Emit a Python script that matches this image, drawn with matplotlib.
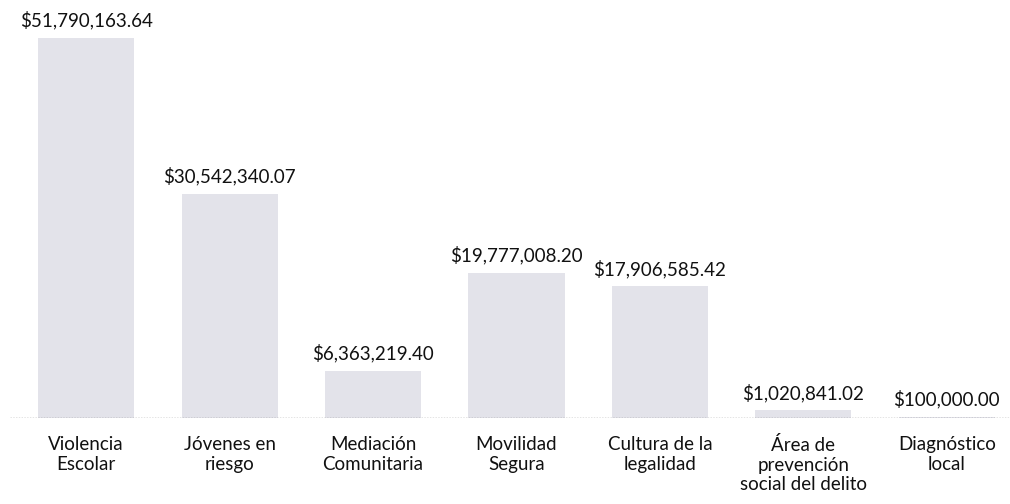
import matplotlib.pyplot as plt

categorias = ["Violencia\nEscolar", "Jóvenes en\nriesgo", "Mediación\nComunitaria",
              "Movilidad\nSegura", "Cultura de la\nlegalidad",
              "Área de\nprevención\nsocial del delito", "Diagnóstico\nlocal"]
montos = [51790163.64, 30542340.07, 6363219.40, 19777008.20,
          17906585.42, 1020841.02, 100000.00]

plt.rcParams['font.family'] = ['Lato', 'DejaVu Sans']

fig = plt.figure(figsize=(10.1, 5.04), dpi=100)
ax = fig.add_axes([0.01, 0.171, 0.99, 0.829])

x = range(len(montos))
ax.bar(x, montos, width=0.67, color="#e3e3ea")

for i, v in zip(x, montos):
    ax.annotate(f"${v:,.2f}", (i, v), xytext=(0, 6), textcoords="offset points",
                ha="center", va="bottom", fontsize=13.5, color="#111111")

ax.axhline(0, color="#777777", lw=1, ls=(0, (1, 1)))
ax.set_xlim(-0.53, 6.44)
ax.set_ylim(0, 56.97e6)
ax.set_xticks(list(x))
ax.set_xticklabels(categorias, fontsize=13.5, color="#111111", linespacing=1.2)
ax.tick_params(axis="x", length=0, pad=13)
ax.set_yticks([])
for s in ax.spines.values():
    s.set_visible(False)

fig.savefig("out.png", dpi=100)
